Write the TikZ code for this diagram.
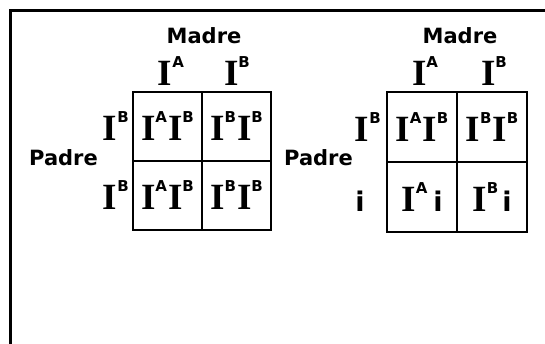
\documentclass[tikz,border=0pt]{standalone}
\usepackage{fontspec}
\newfontfamily\labelfont{DejaVu Sans}
\newfontfamily\genefont{Liberation Serif}

% allele I with its superscript, and the recessive allele i
\newcommand{\gene}[1]{{\genefont\bfseries\fontsize{37}{37}\selectfont I}\raisebox{18pt}{\labelfont\bfseries\fontsize{15}{15}\selectfont #1}}
\newcommand{\rec}{{\labelfont\bfseries\fontsize{27}{27}\selectfont i}}

\begin{document}
\begin{tikzpicture}[
    x=1pt, y=-1pt,
    cell/.style={draw, line width=1.2pt, minimum width=69pt, minimum height=69pt, inner sep=0pt, text height=28pt, text depth=0pt},
    widecell/.style={cell, minimum width=70pt, minimum height=70pt},
    parent/.style={font=\labelfont\bfseries\fontsize{21}{21}\selectfont, inner sep=0pt},
    allele/.style={inner sep=0pt},
]
\useasboundingbox (0,0) rectangle (545,343);

% Frame
\draw[line width=3pt] (10,344) -- (10,10) -- (546,10);

% Left square: I^B I^B x I^A I^B
\node[cell] (l11) at (167.5,126.5) {\gene{A}\hspace{1pt}\gene{B}};
\node[cell] (l12) at (236.5,126.5) {\gene{B}\hspace{1pt}\gene{B}};
\node[cell] (l21) at (167.5,195.5) {\gene{A}\hspace{1pt}\gene{B}};
\node[cell] (l22) at (236.5,195.5) {\gene{B}\hspace{1pt}\gene{B}};

\node[parent, anchor=base] (lmadre) at (204,43) {Madre};
\node[allele, anchor=base] (lcolA) at (171,85) {\gene{A}};
\node[allele, anchor=base] (lcolB) at (237,85) {\gene{B}};

\node[parent, anchor=base east] (lpadre) at (98,165) {Padre};
\node[allele, anchor=base east] (lrow1) at (129,140.5) {\gene{B}};
\node[allele, anchor=base east] (lrow2) at (129,209.5) {\gene{B}};

% Right square: I^B i x I^A I^B
\node[widecell] (r11) at (422,127) {\gene{A}\hspace{1pt}\gene{B}};
\node[widecell] (r12) at (492,127) {\gene{B}\hspace{1pt}\gene{B}};
\node[widecell] (r21) at (422,197) {\gene{A}\hspace{6pt}\rec};
\node[widecell] (r22) at (492,197) {\gene{B}\hspace{4pt}\rec};

\node[parent, anchor=base] (rmadre) at (460,43) {Madre};
\node[allele, anchor=base] (rcolA) at (425,85) {\gene{A}};
\node[allele, anchor=base] (rcolB) at (494,85) {\gene{B}};

\node[parent, anchor=base east] (rpadre) at (353,165) {Padre};
\node[allele, anchor=base east] (rrow1) at (381,141) {\gene{B}};
\node[allele, anchor=base] (rrow2) at (360,211) {\rec};

\end{tikzpicture}
\end{document}
